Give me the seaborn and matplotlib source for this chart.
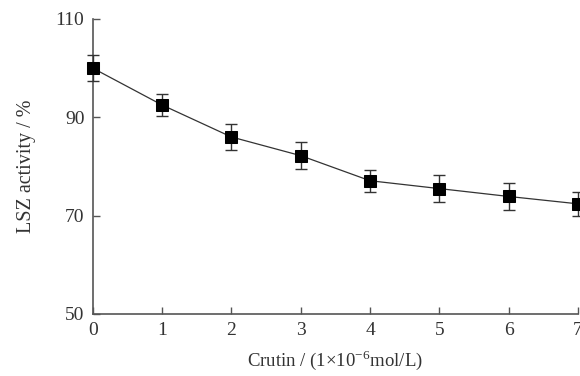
import matplotlib
matplotlib.use("Agg")
import matplotlib.pyplot as plt
import seaborn as sns
import pandas as pd

conc = [0, 1, 2, 3, 4, 5, 6, 7]
activity = [100.0, 92.5, 86.0, 82.2, 77.1, 75.5, 73.9, 72.4]
err = [2.7, 2.2, 2.7, 2.7, 2.2, 2.8, 2.7, 2.5]
xticks = [0, 1, 2, 3, 4, 5, 6, 7]
yticks = [50, 70, 90, 110]

sns.set_theme(style="ticks")
plt.rcParams['font.family'] = ['Liberation Serif', 'DejaVu Serif']
plt.rcParams['mathtext.fontset'] = 'stix'

df = pd.DataFrame({"conc": conc, "activity": activity, "err": err})

fig = plt.figure(figsize=(5.8, 3.76), dpi=100)
ax = fig.add_axes([0.160, 0.165, 0.9966 - 0.160, 0.9495 - 0.165])

ax.errorbar(df["conc"], df["activity"], yerr=df["err"], fmt="none",
            ecolor="#333333", elinewidth=1.0, capsize=4.5, capthick=1.0,
            clip_on=False, zorder=3)
sns.lineplot(data=df, x="conc", y="activity", ax=ax, color="#333333",
             linewidth=0.9, marker="s", markersize=8,
             markerfacecolor="black", markeredgecolor="black",
             clip_on=False, zorder=4)

ax.set_xlim(0, 7)
ax.set_ylim(50, 110)
ax.set_xticks(xticks)
ax.set_yticks(yticks)
ax.tick_params(direction="in", length=5, width=1.0, color="#555555",
               labelsize=14, labelcolor="#333333", pad=6)
for s in ["top", "right"]:
    ax.spines[s].set_visible(False)
for s in ["left", "bottom"]:
    ax.spines[s].set_color("#555555")
    ax.spines[s].set_linewidth(1.2)

ax.set_xlabel("Crutin / (1×10$^{\\mathregular{-6}}$mol/L)", fontsize=13.5,
              color="#333333", labelpad=7)
ax.set_ylabel("LSZ activity / %", fontsize=14.5, color="#333333", labelpad=14)

fig.savefig("out.png", dpi=100)
